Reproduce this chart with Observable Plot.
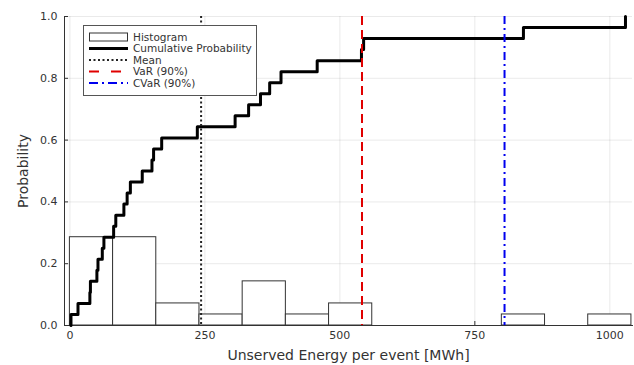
<!DOCTYPE html>
<html><head><meta charset="utf-8">
<script src="https://cdn.jsdelivr.net/npm/d3@7"></script>
<script src="https://cdn.jsdelivr.net/npm/@observablehq/plot@0.6"></script>
<style>
body{margin:0;background:#fff;}
#chart{position:relative;width:634px;height:365px;font-family:"DejaVu Sans",sans-serif;}
#chart svg text{font-family:"DejaVu Sans",sans-serif;}
#legend{position:absolute;left:0;top:0;pointer-events:none;}
</style></head><body><div id="chart"></div>
<script>
// Unserved energy of each event [MWh], sorted
const events = [2, 15, 37, 38, 50, 52, 60, 63, 81, 85, 100, 106, 112, 134, 152, 155, 170, 236,
  306, 331, 353, 370, 391, 458, 540, 544, 840, 1029];
const binEdges = [0, 80, 160, 240, 320, 400, 480, 560, 640, 720, 800, 880, 960, 1040];
const meanValue = 243;
const varValue = 541;
const cvarValue = 805;
const xTicks = [0, 250, 500, 750, 1000];
const yTicks = [0, 0.2, 0.4, 0.6, 0.8, 1.0];
const legendNames = ["Histogram", "Cumulative Probability", "Mean", "VaR (90%)", "CVaR (90%)"];
const xLabel = "Unserved Energy per event [MWh]";
const yLabel = "Probability";

const n = events.length;
const bins = d3.bin().domain([binEdges[0], binEdges[binEdges.length - 1]]).thresholds(binEdges)(events)
  .filter(b => b.length > 0)
  .map(b => ({x1: b.x0, x2: b.x1, y: b.length / n}));
const cdf = [{x: events[0], y: 0}].concat(events.map((v, i) => ({x: v, y: (i + 1) / n})));

const plot = Plot.plot({
  width: 634, height: 365,
  marginLeft: 64, marginRight: 2, marginTop: 16, marginBottom: 40,
  style: {fontFamily: "DejaVu Sans", fontSize: "11px", color: "#333", background: "white", overflow: "visible"},
  x: {domain: [-10, 1042], ticks: xTicks, tickFormat: "d", grid: true, line: true, tickSize: -4, tickPadding: 10,
      label: xLabel, labelAnchor: "center", labelOffset: 34, labelArrow: false},
  y: {domain: [0, 1], ticks: yTicks, tickFormat: ".1f", grid: true, line: true, tickSize: -4, tickPadding: 11,
      label: yLabel, labelAnchor: "center", labelOffset: 46, labelArrow: false},
  marks: [
    Plot.rectY(bins, {x1: "x1", x2: "x2", y: "y", fill: "white", stroke: "#333", strokeWidth: 1}),
    Plot.line(cdf, {x: "x", y: "y", curve: "step-after", stroke: "black", strokeWidth: 3}),
    Plot.ruleX([meanValue], {stroke: "#222", strokeWidth: 2, strokeDasharray: "2,2.5"}),
    Plot.ruleX([varValue], {stroke: "#e00000", strokeWidth: 2, strokeDasharray: "9,5"}),
    Plot.ruleX([cvarValue], {stroke: "#0000ee", strokeWidth: 2, strokeDasharray: "8,4,2,4"})
  ]
});
document.getElementById("chart").appendChild(plot);

// strip any arrows and enlarge axis labels
plot.querySelectorAll("text").forEach(t => {
  const s = t.textContent.replace(/\s*[→↑←↓]\s*/g, "").trim();
  if (s === xLabel || s === yLabel) {
    t.textContent = s;
    t.style.fontSize = "14px";
  }
});

// legend overlay
const ns = "http://www.w3.org/2000/svg";
const lg = document.createElementNS(ns, "svg");
lg.setAttribute("id", "legend");
lg.setAttribute("width", 634); lg.setAttribute("height", 365);
const box = document.createElementNS(ns, "rect");
Object.entries({x: 83.5, y: 25.5, width: 173, height: 70, fill: "white", stroke: "#555", "stroke-width": 1})
  .forEach(([k, v]) => box.setAttribute(k, v));
lg.appendChild(box);
const styles = [
  null,
  {stroke: "black", "stroke-width": 3},
  {stroke: "#222", "stroke-width": 2, "stroke-dasharray": "2,2.5"},
  {stroke: "#e00000", "stroke-width": 2, "stroke-dasharray": "10,12"},
  {stroke: "#0000ee", "stroke-width": 2, "stroke-dasharray": "9,4,2,4"}
];
legendNames.forEach((name, i) => {
  const cy = 37 + i * 11.5;
  if (i === 0) {
    const r = document.createElementNS(ns, "rect");
    Object.entries({x: 89.5, y: cy - 4, width: 38, height: 8, fill: "white", stroke: "#333", "stroke-width": 1})
      .forEach(([k, v]) => r.setAttribute(k, v));
    lg.appendChild(r);
  } else {
    const l = document.createElementNS(ns, "line");
    Object.entries(Object.assign({x1: 89, x2: 128, y1: cy, y2: cy}, styles[i]))
      .forEach(([k, v]) => l.setAttribute(k, v));
    lg.appendChild(l);
  }
  const t = document.createElementNS(ns, "text");
  t.setAttribute("x", 133); t.setAttribute("y", cy);
  t.setAttribute("dy", "0.35em");
  t.setAttribute("fill", "#333");
  t.setAttribute("font-size", "10.5px");
  t.setAttribute("font-family", "DejaVu Sans");
  t.textContent = name;
  lg.appendChild(t);
});
document.getElementById("chart").appendChild(lg);
</script>
</body></html>
